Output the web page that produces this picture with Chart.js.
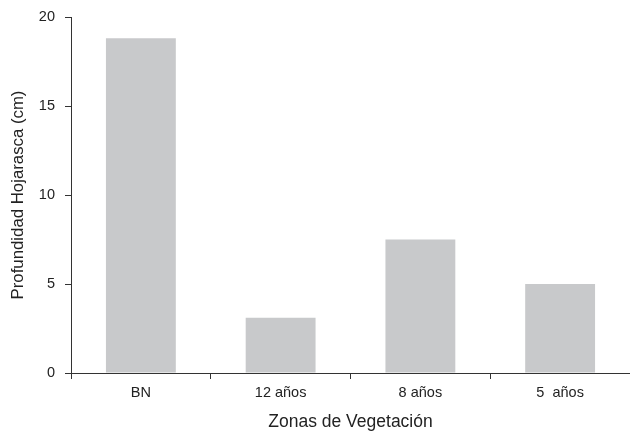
<!DOCTYPE html>
<html>
<head>
<meta charset="utf-8">
<script src="https://cdn.jsdelivr.net/npm/chart.js@4"></script>
<style>
  html, body { margin: 0; padding: 0; background: #fff; }
  #wrap { width: 630px; height: 431px; }
</style>
</head>
<body>
<div id="wrap"><canvas id="chart1" width="630" height="431"></canvas></div>
<script>
const categories = ['BN', '12 años', '8 años', '5  años'];
const depthValues = [18.8, 3.1, 7.5, 5.0];
const yTicks = [0, 5, 10, 15, 20];

const fontFamily = "'Liberation Sans', Arial, sans-serif";
const textColor = '#222';
const axisColor = '#333';

const ctx = document.getElementById('chart1');
new Chart(ctx, {
    type: 'bar',
    data: {
        labels: categories,
        datasets: [{
            label: 'Profundidad Hojarasca (cm)',
            data: depthValues,
            backgroundColor: '#c8c9cb',
            borderWidth: 0,
            barPercentage: 0.5,
            categoryPercentage: 1.0
        }]
    },
    options: {
        responsive: false,
        animation: false,
        layout: { padding: { top: 17, right: 0, left: 0, bottom: 0 } },
        plugins: {
            legend: { display: false },
            tooltip: { enabled: false }
        },
        scales: {
            x: {
                grid: {
                    offset: true,
                    drawOnChartArea: false,
                    drawTicks: true,
                    tickLength: 6,
                    color: axisColor
                },
                border: { color: axisColor, width: 1 },
                ticks: {
                    color: textColor,
                    padding: 5,
                    font: { family: fontFamily, size: 14.5 }
                },
                title: {
                    display: true,
                    text: 'Zonas de Vegetación',
                    color: textColor,
                    padding: { top: 4, bottom: -2 },
                    font: { family: fontFamily, size: 17.5 }
                },
                afterFit: (scale) => { scale.height = 58; }
            },
            y: {
                min: 0,
                max: 20,
                afterBuildTicks: (scale) => {
                    scale.ticks = yTicks.map(v => ({ value: v }));
                },
                grid: {
                    drawOnChartArea: false,
                    drawTicks: true,
                    tickLength: 6,
                    color: axisColor
                },
                border: { color: axisColor, width: 1 },
                ticks: {
                    color: textColor,
                    padding: 10,
                    font: { family: fontFamily, size: 14.5 }
                },
                title: {
                    display: true,
                    text: 'Profundidad Hojarasca (cm)',
                    color: textColor,
                    padding: { top: 8, bottom: 6 },
                    font: { family: fontFamily, size: 16.8 }
                },
                afterFit: (scale) => {
                    scale.width = 71;
                    scale.paddingTop = 0;
                    scale.paddingBottom = 0;
                }
            }
        }
    }
});
</script>
</body>
</html>
